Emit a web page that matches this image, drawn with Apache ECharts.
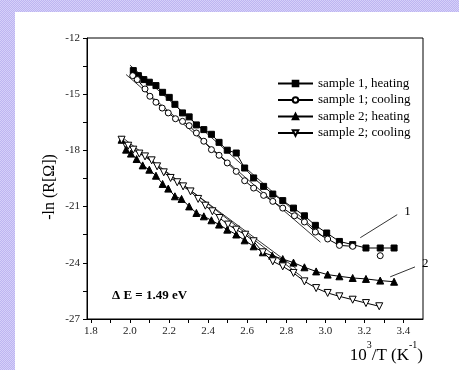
<!DOCTYPE html>
<html><head><meta charset="utf-8">
<script src="https://cdn.jsdelivr.net/npm/echarts@6/dist/echarts.min.js"></script>
<style>
html,body{margin:0;padding:0;width:459px;height:370px;overflow:hidden;}
body{background:repeating-conic-gradient(#bdb5f1 0 25%, #d6d0f9 0 50%) 0 0/2px 2px;position:relative;}
#panel{position:absolute;left:15px;top:12px;right:0;bottom:0;background:#fff;}
#chart{position:absolute;left:0;top:0;width:459px;height:370px;}
</style></head>
<body><div id="panel"></div><div id="chart"></div>
<script>
// ---- data (x = 10^3/T, y = -ln R) ----
const s1Heating = [[2.017,-13.74],[2.043,-14.01],[2.071,-14.22],[2.099,-14.36],[2.133,-14.54],[2.167,-14.90],[2.201,-15.17],[2.230,-15.54],[2.269,-16.00],[2.303,-16.21],[2.340,-16.64],[2.378,-16.89],[2.417,-17.14],[2.456,-17.57],[2.498,-17.99],[2.544,-18.14],[2.587,-18.94],[2.633,-19.47],[2.684,-19.92],[2.731,-20.33],[2.782,-20.68],[2.837,-21.08],[2.893,-21.49],[2.949,-22.00],[3.007,-22.41],[3.072,-22.86],[3.140,-23.03],[3.208,-23.21],[3.281,-23.21],[3.352,-23.21]];
const s1Cooling = [[2.014,-14.01],[2.037,-14.22],[2.077,-14.72],[2.102,-15.11],[2.133,-15.43],[2.165,-15.74],[2.196,-16.00],[2.233,-16.31],[2.269,-16.45],[2.303,-16.68],[2.340,-17.07],[2.378,-17.51],[2.417,-17.96],[2.456,-18.26],[2.498,-18.67],[2.544,-19.12],[2.587,-19.62],[2.633,-20.01],[2.684,-20.40],[2.731,-20.72],[2.782,-21.08],[2.842,-21.49],[2.893,-21.82],[2.949,-22.36],[3.012,-22.73],[3.072,-23.07],[3.140,-23.12],null,[3.281,-23.62]];
const s2Heating = [[1.957,-17.43],[1.980,-17.96],[2.005,-18.17],[2.034,-18.46],[2.065,-18.80],[2.099,-19.03],[2.133,-19.35],[2.167,-19.79],[2.196,-20.04],[2.230,-20.45],[2.264,-20.59],[2.303,-20.99],[2.340,-21.34],[2.378,-21.52],[2.417,-21.73],[2.456,-21.96],[2.498,-22.23],[2.544,-22.49],[2.587,-22.80],[2.633,-23.12],[2.680,-23.44],[2.728,-23.62],[2.782,-23.80],[2.837,-23.99],[2.893,-24.24],[2.953,-24.46],[3.012,-24.63],[3.072,-24.72],[3.140,-24.81],[3.208,-24.86],[3.281,-24.95],[3.352,-25.01]];
const s2Cooling = [[1.957,-17.43],[1.991,-17.75],[2.017,-17.96],[2.048,-18.17],[2.077,-18.32],[2.111,-18.53],[2.139,-18.85],[2.173,-19.17],[2.208,-19.47],[2.242,-19.70],[2.272,-19.92],[2.310,-20.19],[2.349,-20.59],[2.386,-20.95],[2.422,-21.25],[2.459,-21.61],[2.502,-21.96],[2.544,-22.23],[2.590,-22.50],[2.633,-22.85],[2.680,-23.44],[2.731,-23.92],[2.782,-24.19],[2.837,-24.54],[2.893,-24.99],[2.953,-25.35],[3.012,-25.61],[3.072,-25.79],[3.140,-25.97],[3.208,-26.15],[3.276,-26.32]];
const fitLine1 = [[2.000,-13.45],[2.990,-22.62]];
const fitLine2 = [[1.980,-13.95],[2.975,-22.90]];
const fitLine3 = [[1.960,-17.30],[2.880,-24.75]];
const fitLine4 = [[1.975,-17.55],[2.850,-24.30]];
const pointer1 = [[3.179,-22.66],[3.368,-21.43]];
const pointer2 = [[3.332,-24.75],[3.459,-24.22]];
const seriesNames = ['sample 1, heating','sample 1; cooling','sample 2; heating','sample 2; cooling'];
const xTickLabels = [1.8,2.0,2.2,2.4,2.6,2.8,3.0,3.2,3.4];
const xTicks = [1.8,1.9,2.0,2.1,2.2,2.3,2.4,2.5,2.6,2.7,2.8,2.9,3.0,3.1,3.2,3.3,3.4];
const yTicks = [-12,-13.5,-15,-16.5,-18,-19.5,-21,-22.5,-24,-25.5,-27];
const deltaE = 'Δ E = 1.49 eV';

const SERIF = '"Liberation Serif","Times New Roman",serif';
const chart = echarts.init(document.getElementById('chart'), null, {renderer:'canvas'});

function dataSeries(name, data, symbol, size, filled, rotate){
  return {
    name, type:'line', data, symbol, symbolSize:size, symbolRotate:rotate||0,
    showAllSymbol:true, connectNulls:false, animation:false, z:3,
    lineStyle:{color:'#000', width:1},
    itemStyle:{color: filled ? '#000' : '#fff', borderColor:'#000', borderWidth:1}
  };
}
function plainLine(data, label){
  return {
    type:'line', data, symbol:'none', animation:false, silent:true, z:2,
    lineStyle:{color:'#000', width:0.8},
    endLabel: label ? {show:true, formatter:label, color:'#000', fontFamily:SERIF, fontSize:13, offset:[-1,-3]} : undefined
  };
}

chart.setOption({
  backgroundColor:'transparent',
  animation:false,
  grid:{left:87, top:38, right:36, bottom:51, show:true, borderColor:'#000', borderWidth:1, backgroundColor:'#fff'},
  xAxis:{
    type:'value', min:1.78, max:3.5,
    axisLine:{lineStyle:{color:'#000', width:1}},
    axisTick:{show:true, length:4, inside:false, customValues:xTicks, lineStyle:{color:'#000'}},
    axisLabel:{customValues:xTickLabels, formatter:v=>v.toFixed(1), color:'#222', fontFamily:SERIF, fontSize:11, margin:7},
    splitLine:{show:false}
  },
  yAxis:{
    type:'value', min:-27, max:-12, interval:3,
    axisLine:{show:true, lineStyle:{color:'#000', width:1}},
    axisTick:{show:true, length:4, customValues:yTicks, lineStyle:{color:'#000'}},
    axisLabel:{color:'#222', fontFamily:SERIF, fontSize:11, margin:7},
    splitLine:{show:false}
  },
  legend:{
    data:seriesNames, orient:'vertical', left:272, top:72,
    itemWidth:35, itemHeight:7, itemGap:3.5, itemTextGap:5,
    textStyle:{color:'#000', fontFamily:SERIF, fontSize:13, lineHeight:13},
    selectedMode:false
  },
  series:[
    plainLine(fitLine1), plainLine(fitLine2), plainLine(fitLine3), plainLine(fitLine4),
    plainLine(pointer1,'1'), plainLine(pointer2,'2'),
    dataSeries(seriesNames[0], s1Heating, 'rect', 6, true),
    dataSeries(seriesNames[1], s1Cooling, 'circle', 6, false),
    dataSeries(seriesNames[2], s2Heating, 'triangle', 7, true),
    dataSeries(seriesNames[3], s2Cooling, 'triangle', 7, false, 180)
  ],
  graphic:[
    {type:'text', left:112, top:289, style:{text:deltaE, font:'bold 13px '+SERIF, fill:'#000'}},
    {type:'text', x:50, y:187, rotation:Math.PI/2, style:{text:'-ln (R[Ω])', font:'16px '+SERIF, fill:'#000', align:'center', verticalAlign:'middle'}},
    {type:'text', right:36, top:340, style:{
      text:'{n|10}{sup|3}{n|/T (K}{sup|-1}{n|)}', fill:'#000',
      rich:{
        n:{fontSize:17, fontFamily:SERIF, fill:'#000', lineHeight:24, verticalAlign:'bottom'},
        sup:{fontSize:10, fontFamily:SERIF, fill:'#000', lineHeight:10, verticalAlign:'top'}
      }
    }}
  ]
});
</script>
</body></html>
